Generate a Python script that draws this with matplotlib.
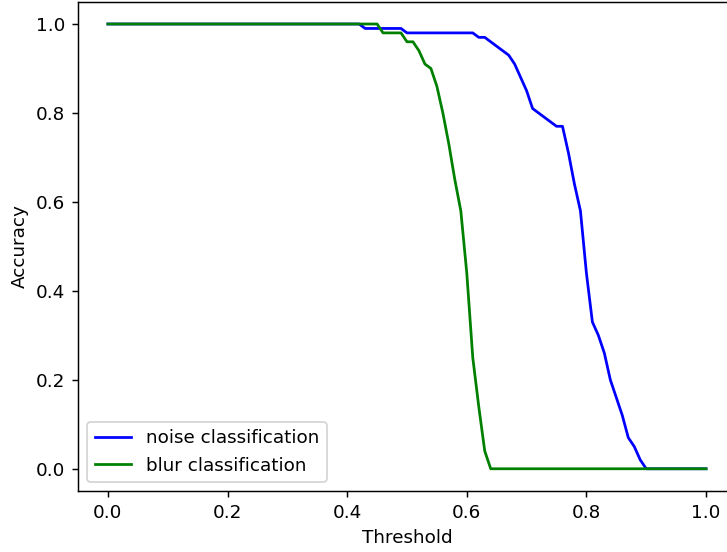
import numpy as np
import matplotlib
matplotlib.use("Agg")
import matplotlib.pyplot as plt

# Limiar de 0.00 a 1.00, passo 0.01
thresholds = np.round(np.arange(0, 101) / 100, 2)

# Acuracia (noise)
noise_acc = ([1.0] * 43 +                      # 0.00 - 0.42
             [0.99] * 7 +                      # 0.43 - 0.49
             [0.98] * 12 +                     # 0.50 - 0.61
             [0.97, 0.97, 0.96, 0.95, 0.94, 0.93, 0.91, 0.88, 0.85, 0.81,
              0.80, 0.79, 0.78, 0.77, 0.77, 0.71, 0.64, 0.58, 0.44, 0.33,
              0.30, 0.26, 0.20, 0.16, 0.12, 0.07, 0.05, 0.02] +   # 0.62 - 0.89
             [0.0] * 11)                       # 0.90 - 1.00

# Acuracia (blur)
blur_acc = ([1.0] * 46 +                       # 0.00 - 0.45
            [0.98] * 4 +                       # 0.46 - 0.49
            [0.96, 0.96, 0.94, 0.91, 0.90, 0.86, 0.80, 0.73, 0.65, 0.58,
             0.44, 0.25, 0.14, 0.04] +         # 0.50 - 0.63
            [0.0] * 37)                        # 0.64 - 1.00

# dpi maior para escalar fontes e linhas como no original
dpi = 132
fig = plt.figure(figsize=(727 / dpi, 552 / dpi), dpi=dpi)
ax = fig.add_axes([0.1073, 0.1105, 0.905, 0.8863])

ax.plot(thresholds, noise_acc, color="blue", label="noise classification")
ax.plot(thresholds, blur_acc, color="green", label="blur classification")

ax.set_xlabel("Threshold")
ax.set_ylabel("Accuracy")
ax.legend(loc="lower left")

fig.savefig("out.png", dpi=dpi)
